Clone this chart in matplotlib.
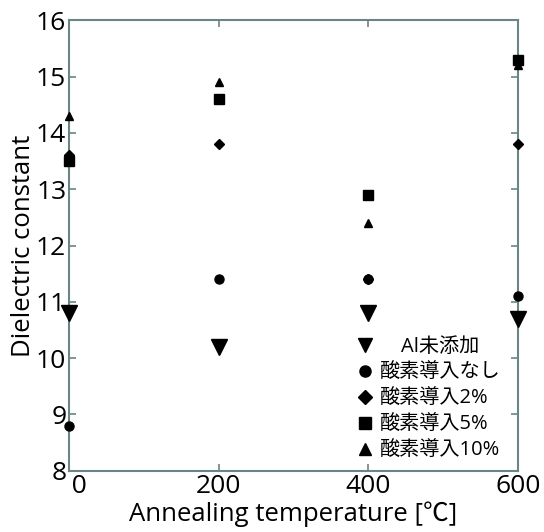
import matplotlib
matplotlib.use("Agg")
import matplotlib.pyplot as plt

plt.rcParams['font.family'] = ['Open Sans', 'Noto Sans CJK JP', 'DejaVu Sans']

# annealing temperature (degC)
temps = [0, 200, 400, 600]
# "0" is nudged right of the corner with leading spaces, clear of the "8"
xtick_labels = ["   0", "200", "400", "600"]

# dielectric constant per condition
no_al = [10.8, 10.2, 10.8, 10.7]
o2_none = [8.8, 11.4, 11.4, 11.1]
o2_2 = [13.6, 13.8, 11.4, 13.8]
o2_5 = [13.5, 14.6, 12.9, 15.3]
o2_10 = [14.3, 14.9, 12.4, 15.2]

labels = ["    Al未添加", "酸素導入なし", "酸素導入2%", "酸素導入5%", "酸素導入10%"]

SPINE = "#6a8585"

fig = plt.figure(figsize=(5.44, 5.32), dpi=100)
ax = fig.add_axes([0.127, 0.115, 0.825, 0.847])

series = [
    (no_al, "v", 11),
    (o2_none, "o", 6.5),
    (o2_5, "s", 6.5),
    (o2_10, "^", 6),
    (o2_2, "D", 5.5),
]
handles = {}
for vals, mk, ms in series:
    h, = ax.plot(temps, vals, linestyle="none", marker=mk, markersize=ms,
                 color="black", clip_on=False, zorder=3)
    handles[mk] = h

order = ["v", "o", "D", "s", "^"]
leg_sizes = [10, 8, 7, 8, 8.5]
ax.legend([handles[m] for m in order], labels, loc="lower right",
          frameon=False, fontsize=14.5, handletextpad=0.25, handlelength=1.0,
          labelspacing=0.3, borderaxespad=0.1,
          bbox_to_anchor=(0.985, 0.0))
for h, s in zip(ax.get_legend().legend_handles, leg_sizes):
    h.set_markersize(s)

ax.set_xlim(0, 600)
ax.set_ylim(8, 16)
ax.set_xticks(temps, xtick_labels)
ax.set_yticks(range(8, 17))
ax.tick_params(direction="in", top=True, right=True, length=5, width=1.2,
               color=SPINE, labelsize=19, pad=2)
for sp in ax.spines.values():
    sp.set_color(SPINE)
    sp.set_linewidth(1.5)

ax.set_xlabel("Annealing temperature [℃]", fontsize=18.5, labelpad=2)
ax.set_ylabel("Dielectric constant", fontsize=18.5, labelpad=0)

fig.savefig("out.png", dpi=100)
